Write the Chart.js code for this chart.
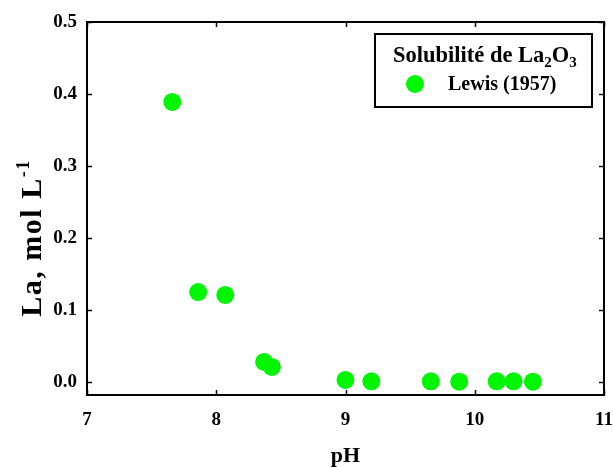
<!DOCTYPE html>
<html>
<head>
<meta charset="utf-8">
<script src="https://cdn.jsdelivr.net/npm/chart.js@4.4.0/dist/chart.umd.min.js"></script>
<style>
  html, body { margin: 0; padding: 0; background: #fff; }
</style>
</head>
<body>
<canvas id="chart" width="613" height="467"></canvas>
<script>
// data
const phValues = [7.66, 7.86, 8.07, 8.37, 8.43, 9.0, 9.2, 9.66, 9.88, 10.17, 10.3, 10.45];
const laValues = [0.389, 0.125, 0.121, 0.028, 0.021, 0.003, 0.001, 0.001, 0.0005, 0.001, 0.001, 0.0005];
const xTicks = [7, 8, 9, 10, 11];
const yTicks = [0.0, 0.1, 0.2, 0.3, 0.4, 0.5];
const seriesLabel = "Lewis (1957)";
const legendTitle = ["Solubilité de La", "2", "O", "3"];
const yTitle = ["La, mol L", "-1"];
const xTitle = "pH";

const serif = "'Liberation Serif', 'Times New Roman', serif";
const green = "#00f500";

// box round the plot with inward ticks on all four sides
const framePlugin = {
    id: "frame",
    afterDraw(chart) {
        const { ctx, chartArea: a, scales } = chart;
        const tick = 5;
        ctx.save();
        ctx.strokeStyle = "#000";
        ctx.lineWidth = 1.5;
        ctx.beginPath();
        xTicks.forEach(v => {
            const px = Math.round(scales.x.getPixelForValue(v)) + 0.5;
            ctx.moveTo(px, a.bottom); ctx.lineTo(px, a.bottom - tick);
            ctx.moveTo(px, a.top); ctx.lineTo(px, a.top + tick);
        });
        yTicks.forEach(v => {
            const py = Math.round(scales.y.getPixelForValue(v)) + 0.5;
            ctx.moveTo(a.left, py); ctx.lineTo(a.left + tick, py);
            ctx.moveTo(a.right, py); ctx.lineTo(a.right - tick, py);
        });
        ctx.stroke();
        ctx.lineWidth = 2;
        ctx.strokeRect(a.left, a.top, a.right - a.left, a.bottom - a.top);
        ctx.restore();
    }
};

// legend with subscripts in the title
const legendPlugin = {
    id: "subLegend",
    afterDraw(chart) {
        const ctx = chart.ctx;
        const bx = 375, by = 34, bw = 217, bh = 73;
        ctx.save();
        ctx.fillStyle = "#fff";
        ctx.fillRect(bx, by, bw, bh);
        ctx.strokeStyle = "#000";
        ctx.lineWidth = 2;
        ctx.strokeRect(bx, by, bw, bh);

        ctx.fillStyle = "#000";
        ctx.textBaseline = "alphabetic";
        ctx.textAlign = "left";
        const big = "bold 22.5px " + serif, small = "bold 15px " + serif;
        let x = 393;
        const base = 62;
        legendTitle.forEach((part, i) => {
            const sub = i % 2 === 1;
            ctx.font = sub ? small : big;
            ctx.fillText(part, x, sub ? base + 5 : base);
            x += ctx.measureText(part).width;
        });

        ctx.fillStyle = green;
        ctx.beginPath();
        ctx.arc(415, 84, 9, 0, Math.PI * 2);
        ctx.fill();
        ctx.fillStyle = "#000";
        ctx.font = "bold 20px " + serif;
        ctx.textBaseline = "middle";
        ctx.fillText(seriesLabel, 448, 85);
        ctx.restore();
    }
};

// rotated y title with superscript
const yTitlePlugin = {
    id: "yTitle",
    afterDraw(chart) {
        const ctx = chart.ctx;
        ctx.save();
        ctx.translate(41, 238);
        ctx.rotate(-Math.PI / 2);
        ctx.fillStyle = "#000";
        ctx.textBaseline = "alphabetic";
        ctx.textAlign = "left";
        ctx.letterSpacing = "1.5px";
        ctx.font = "bold 30px " + serif;
        const w1 = ctx.measureText(yTitle[0]).width;
        ctx.font = "bold 18px " + serif;
        const w2 = ctx.measureText(yTitle[1]).width;
        let x = -(w1 + w2) / 2;
        ctx.font = "bold 30px " + serif;
        ctx.fillText(yTitle[0], x, 0);
        ctx.font = "bold 18px " + serif;
        ctx.fillText(yTitle[1], x + w1, -12);
        ctx.restore();
    }
};

const points = phValues.map((ph, i) => ({ x: ph, y: laValues[i] }));

new Chart(document.getElementById("chart").getContext("2d"), {
    type: "scatter",
    data: {
        datasets: [{
            label: seriesLabel,
            data: points,
            pointRadius: 9,
            pointHoverRadius: 9,
            pointBackgroundColor: green,
            pointBorderWidth: 0
        }]
    },
    options: {
        responsive: false,
        animation: false,
        layout: { padding: { left: 0, right: 9, top: 22, bottom: 0 } },
        plugins: {
            legend: { display: false },
            tooltip: { enabled: false }
        },
        scales: {
            x: {
                type: "linear",
                min: 7,
                max: 11,
                afterBuildTicks: s => { s.ticks = xTicks.map(v => ({ value: v })); },
                afterFit: s => { s.height = 72; s.paddingLeft = 0; s.paddingRight = 0; },
                grid: { display: false, drawTicks: false },
                border: { display: false },
                ticks: {
                    padding: 14,
                    color: "#000",
                    font: { family: serif, size: 19, weight: "bold" },
                    callback: v => String(v)
                },
                title: {
                    display: true,
                    text: xTitle,
                    color: "#000",
                    padding: { top: 0, bottom: 0 },
                    font: { family: serif, size: 22, weight: "bold", lineHeight: 1 }
                }
            },
            y: {
                type: "linear",
                min: -0.018,
                max: 0.5,
                afterBuildTicks: s => { s.ticks = yTicks.map(v => ({ value: v })); },
                afterFit: s => { s.width = 87; s.paddingTop = 0; s.paddingBottom = 0; },
                grid: { display: false, drawTicks: false },
                border: { display: false },
                ticks: {
                    padding: 10,
                    color: "#000",
                    font: { family: serif, size: 19, weight: "bold" },
                    callback: v => Number(v).toFixed(1)
                }
            }
        }
    },
    plugins: [framePlugin, legendPlugin, yTitlePlugin]
});
</script>
</body>
</html>
